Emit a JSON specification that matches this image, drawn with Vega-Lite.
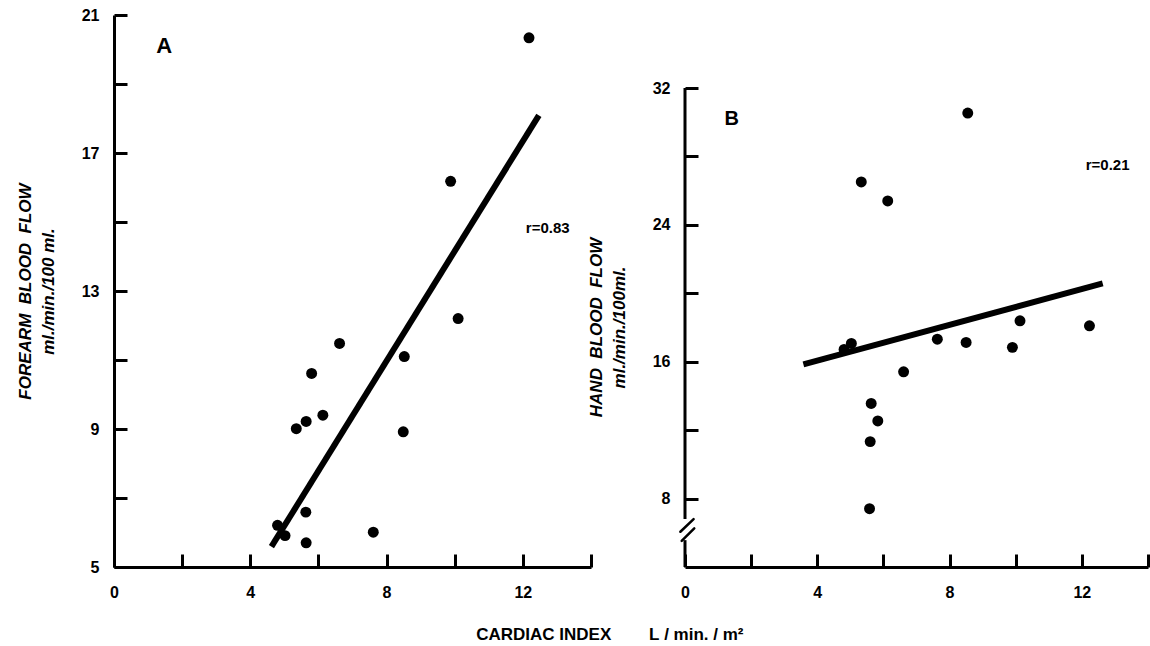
{
  "$schema": "https://vega.github.io/schema/vega-lite/v6.json",
  "background": "white",
  "padding": {"left": 16, "top": 7, "right": 0, "bottom": 0},
  "config": {
    "view": {"stroke": null},
    "font": "Liberation Sans",
    "axis": {
      "grid": false,
      "domainColor": "black",
      "domainWidth": 3,
      "tickColor": "black",
      "tickWidth": 3,
      "tickSize": -13,
      "labelFont": "Liberation Sans",
      "labelFontWeight": "bold",
      "labelFontSize": 16,
      "labelColor": "black",
      "labelFlush": false,
      "labelOverlap": false,
      "labelAngle": 0,
      "titleFont": "Liberation Sans",
      "titleFontWeight": "bold",
      "titleFontStyle": "italic",
      "titleFontSize": 17,
      "titleColor": "black",
      "titleLineHeight": 23
    },
    "axisX": {"labelPadding": 30},
    "axisY": {"labelPadding": 28}
  },
  "datasets": {
    "forearm": [
      {"ci": 12.18, "flow": 20.34},
      {"ci": 9.88, "flow": 16.18},
      {"ci": 10.1, "flow": 12.2},
      {"ci": 6.62, "flow": 11.48},
      {"ci": 8.52, "flow": 11.1},
      {"ci": 5.8, "flow": 10.61},
      {"ci": 6.13, "flow": 9.4},
      {"ci": 5.64, "flow": 9.22},
      {"ci": 5.35, "flow": 9.01},
      {"ci": 8.49, "flow": 8.92},
      {"ci": 5.63, "flow": 6.59},
      {"ci": 4.8, "flow": 6.21},
      {"ci": 5.02, "flow": 5.91},
      {"ci": 7.61, "flow": 6.01},
      {"ci": 5.64, "flow": 5.7}
    ],
    "forearm_fit": [
      {"ci": 4.62, "flow": 5.59},
      {"ci": 12.47, "flow": 18.09}
    ],
    "hand": [
      {"ci": 8.55, "flow": 30.54},
      {"ci": 5.33, "flow": 26.51},
      {"ci": 6.13, "flow": 25.4},
      {"ci": 10.13, "flow": 18.39},
      {"ci": 12.23, "flow": 18.1},
      {"ci": 7.63, "flow": 17.32},
      {"ci": 8.5, "flow": 17.13},
      {"ci": 9.9, "flow": 16.84},
      {"ci": 5.03, "flow": 17.07},
      {"ci": 4.81, "flow": 16.72},
      {"ci": 6.61, "flow": 15.41},
      {"ci": 5.63, "flow": 13.56},
      {"ci": 5.83, "flow": 12.54},
      {"ci": 5.6, "flow": 11.33},
      {"ci": 5.58, "flow": 7.41}
    ],
    "hand_fit": [
      {"ci": 3.58, "flow": 15.84},
      {"ci": 12.63, "flow": 20.58}
    ],
    "hand_axis": [
      {"ci": 0, "flow": 4, "ci2": 0, "flow2": 5.57},
      {"ci": 0, "flow": 6.8, "ci2": 0, "flow2": 32}
    ],
    "hand_break": [
      {"ci": -0.14, "flow": 6.06, "ci2": 0.26, "flow2": 6.8},
      {"ci": -0.1, "flow": 5.53, "ci2": 0.28, "flow2": 6.26}
    ]
  },
  "title": {
    "text": "CARDIAC\u00a0INDEX\u00a0\u00a0\u00a0\u00a0\u00a0\u00a0\u00a0\u00a0L\u00a0/\u00a0min.\u00a0/\u00a0m\u00b2",
    "orient": "bottom",
    "anchor": "middle",
    "font": "Liberation Sans",
    "fontSize": 17,
    "fontWeight": "bold",
    "color": "black",
    "offset": 27,
    "dx": 27
  },
  "bounds": "flush",
  "spacing": 94,
  "hconcat": [
    {
      "width": 477,
      "height": 552,
      "layer": [
        {
          "data": {"name": "forearm"},
          "mark": {"type": "circle", "size": 120, "color": "black", "opacity": 1},
          "encoding": {
            "x": {
              "field": "ci",
              "type": "quantitative",
              "scale": {"domain": [0, 14], "nice": false, "zero": false},
              "axis": {
                "title": null,
                "values": [0, 2, 4, 6, 8, 10, 12, 14],
                "labelExpr": "datum.value % 4 == 0 ? datum.label : ''"
              }
            },
            "y": {
              "field": "flow",
              "type": "quantitative",
              "scale": {"domain": [5, 21], "nice": false, "zero": false},
              "axis": {
                "title": ["FOREARM\u00a0\u00a0BLOOD\u00a0\u00a0FLOW", "ml./min./100\u00a0ml."],
                "titlePadding": 24,
                "values": [5, 7, 9, 11, 13, 15, 17, 19, 21],
                "labelExpr": "(datum.value - 5) % 4 == 0 ? datum.label : ''"
              }
            }
          }
        },
        {
          "data": {"name": "forearm_fit"},
          "mark": {"type": "line", "color": "black", "strokeWidth": 6, "strokeCap": "butt"},
          "encoding": {
            "x": {"field": "ci", "type": "quantitative"},
            "y": {"field": "flow", "type": "quantitative"}
          }
        },
        {
          "data": {"values": [{"ci": 1.47, "flow": 20.09, "label": "A"}]},
          "mark": {"type": "text", "font": "Liberation Sans", "fontWeight": "bold", "fontSize": 22, "color": "black"},
          "encoding": {
            "x": {"field": "ci", "type": "quantitative"},
            "y": {"field": "flow", "type": "quantitative"},
            "text": {"field": "label"}
          }
        },
        {
          "data": {"values": [{"ci": 12.73, "flow": 14.83, "label": "r=0.83"}]},
          "mark": {"type": "text", "font": "Liberation Sans", "fontWeight": "bold", "fontSize": 15, "color": "black"},
          "encoding": {
            "x": {"field": "ci", "type": "quantitative"},
            "y": {"field": "flow", "type": "quantitative"},
            "text": {"field": "label"}
          }
        }
      ]
    },
    {
      "width": 463,
      "height": 552,
      "layer": [
        {
          "data": {"name": "hand"},
          "mark": {"type": "circle", "size": 120, "color": "black", "opacity": 1},
          "encoding": {
            "x": {
              "field": "ci",
              "type": "quantitative",
              "scale": {"domain": [0, 14], "nice": false, "zero": false},
              "axis": {
                "title": null,
                "values": [0, 2, 4, 6, 8, 10, 12, 14],
                "labelExpr": "datum.value % 4 == 0 ? datum.label : ''"
              }
            },
            "y": {
              "field": "flow",
              "type": "quantitative",
              "scale": {"domain": [4, 36.27], "nice": false, "zero": false},
              "axis": {
                "domain": false,
                "title": ["HAND\u00a0\u00a0BLOOD\u00a0\u00a0FLOW", "ml./min./100ml."],
                "titlePadding": 24,
                "titleY": 312,
                "values": [8, 12, 16, 20, 24, 28, 32],
                "labelExpr": "datum.value % 8 == 0 ? datum.label : ''"
              }
            }
          }
        },
        {
          "data": {"name": "hand_axis"},
          "mark": {"type": "rule", "color": "black", "strokeWidth": 3, "strokeCap": "butt"},
          "encoding": {
            "x": {"field": "ci", "type": "quantitative"},
            "x2": {"field": "ci2"},
            "y": {"field": "flow", "type": "quantitative"},
            "y2": {"field": "flow2"}
          }
        },
        {
          "data": {"name": "hand_break"},
          "mark": {"type": "rule", "color": "black", "strokeWidth": 2.5, "strokeCap": "round"},
          "encoding": {
            "x": {"field": "ci", "type": "quantitative"},
            "x2": {"field": "ci2"},
            "y": {"field": "flow", "type": "quantitative"},
            "y2": {"field": "flow2"}
          }
        },
        {
          "data": {"name": "hand_fit"},
          "mark": {"type": "line", "color": "black", "strokeWidth": 6, "strokeCap": "butt"},
          "encoding": {
            "x": {"field": "ci", "type": "quantitative"},
            "y": {"field": "flow", "type": "quantitative"}
          }
        },
        {
          "data": {"values": [{"ci": 1.41, "flow": 30.2, "label": "B"}]},
          "mark": {"type": "text", "font": "Liberation Sans", "fontWeight": "bold", "fontSize": 20, "color": "black"},
          "encoding": {
            "x": {"field": "ci", "type": "quantitative"},
            "y": {"field": "flow", "type": "quantitative"},
            "text": {"field": "label"}
          }
        },
        {
          "data": {"values": [{"ci": 12.78, "flow": 27.5, "label": "r=0.21"}]},
          "mark": {"type": "text", "font": "Liberation Sans", "fontWeight": "bold", "fontSize": 15, "color": "black"},
          "encoding": {
            "x": {"field": "ci", "type": "quantitative"},
            "y": {"field": "flow", "type": "quantitative"},
            "text": {"field": "label"}
          }
        }
      ]
    }
  ]
}
